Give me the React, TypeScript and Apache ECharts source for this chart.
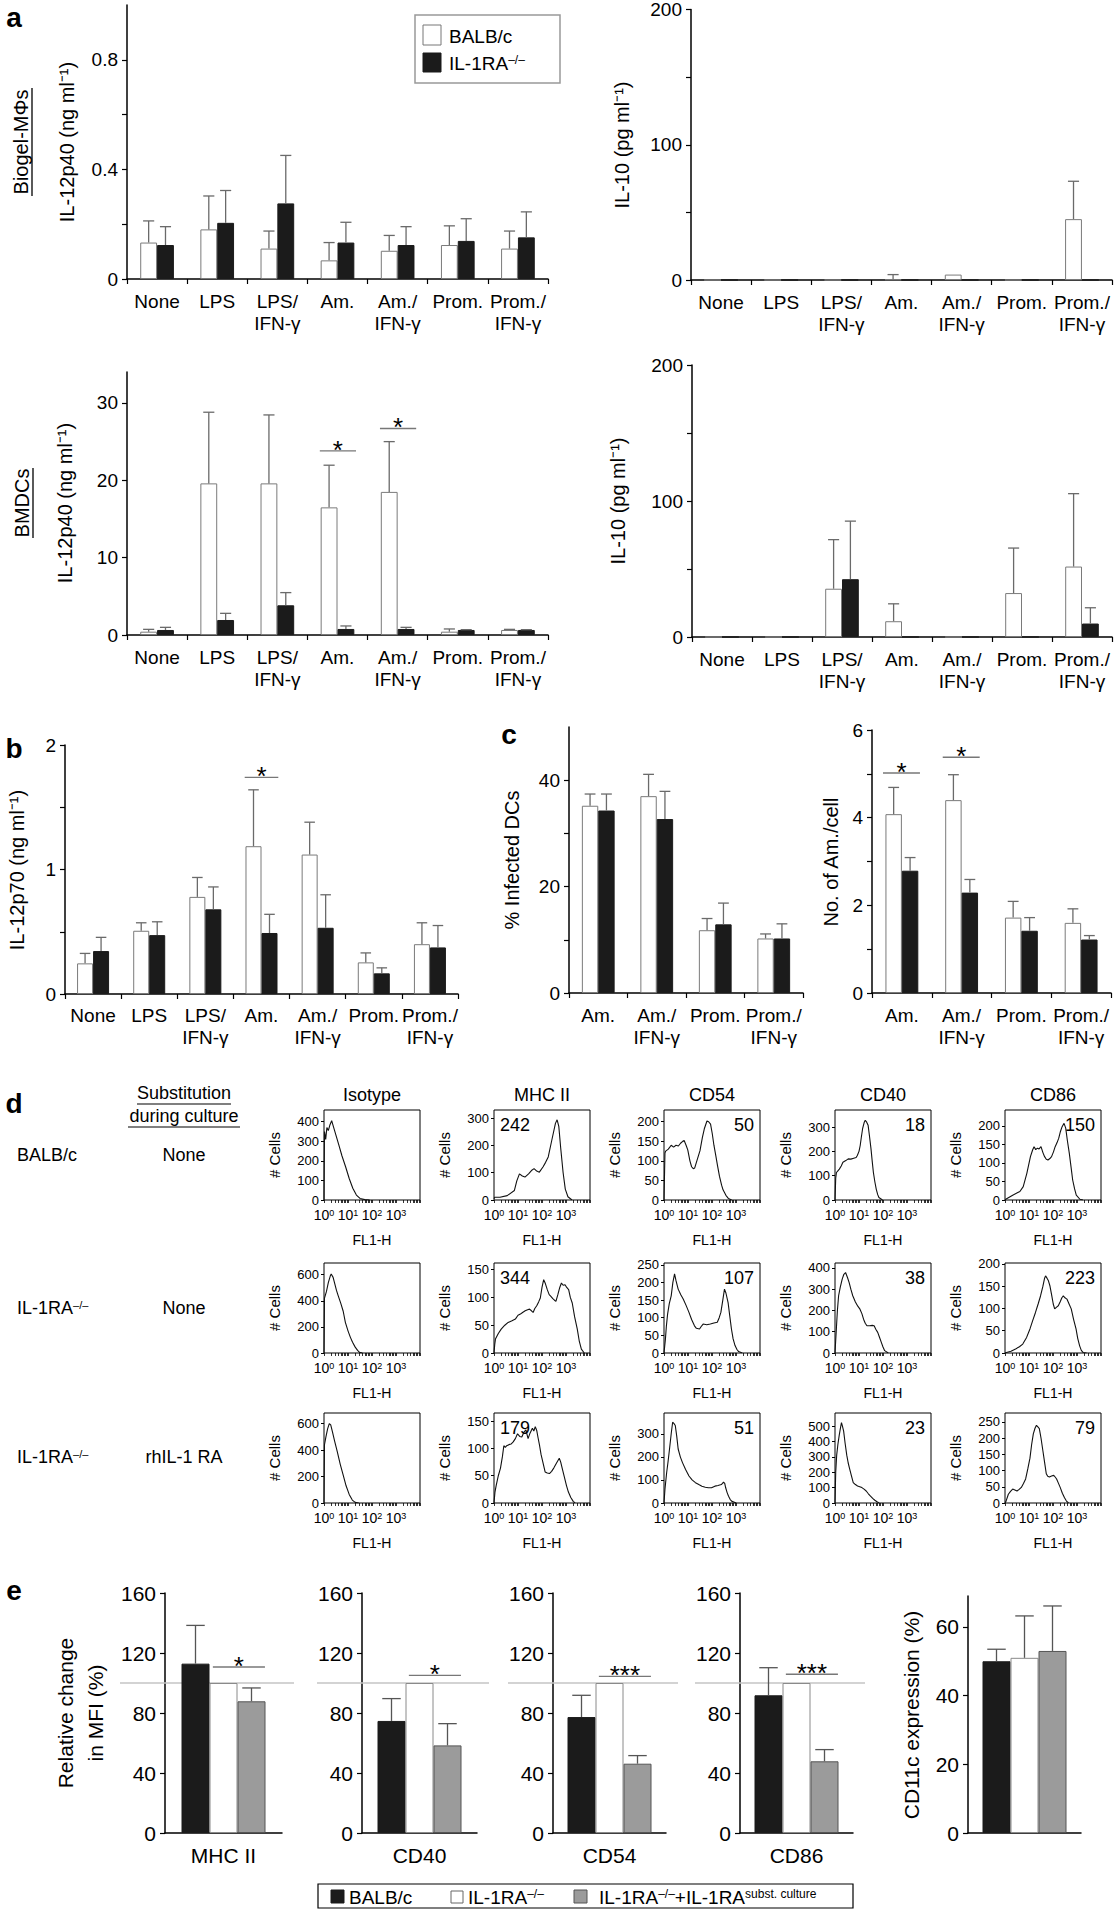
import React, { useEffect, useRef } from 'react';
import * as echarts from 'echarts';

const FONT = '"Liberation Sans", Arial, Helvetica, sans-serif';
const PAGE_W = 1114;
const PAGE_H = 1910;

// ---------------- categories & tick labels ----------------
const stimCats = ['None', 'LPS', 'LPS/\nIFN-γ', 'Am.', 'Am./\nIFN-γ', 'Prom.', 'Prom./\nIFN-γ'];
const infCats = ['Am.', 'Am./\nIFN-γ', 'Prom.', 'Prom./\nIFN-γ'];
const markerCats = ['MHC II', 'CD40', 'CD54', 'CD86'];

const ticksIL12Mf = [0, 0.2, 0.4, 0.6, 0.8];
const labelsIL12Mf = [0, 0.4, 0.8];
const ticksIL10 = [0, 50, 100, 150, 200];
const labelsIL10 = [0, 100, 200];
const ticksIL12Dc = [0, 10, 20, 30];
const ticksIL12p70 = [0, 0.5, 1, 1.5, 2];
const labelsIL12p70 = [0, 1, 2];
const ticksInfected = [0, 10, 20, 30, 40];
const labelsInfected = [0, 20, 40];
const ticksAmCell = [0, 1, 2, 3, 4, 5, 6];
const labelsAmCell = [0, 2, 4, 6];
const ticksMFI = [0, 40, 80, 120, 160];
const ticksCD11c = [0, 20, 40, 60];
const histXLabels = [0, 1, 2, 3];

// ---------------- a: Biogel-MΦs ----------------
const mfIL12Balb = [0.133, 0.181, 0.111, 0.068, 0.103, 0.124, 0.111];
const mfIL12BalbSD = [0.079, 0.122, 0.064, 0.065, 0.056, 0.07, 0.064];
const mfIL12Ko = [0.124, 0.205, 0.276, 0.133, 0.124, 0.139, 0.152];
const mfIL12KoSD = [0.067, 0.118, 0.175, 0.074, 0.067, 0.081, 0.093];
const mfIL10Balb = [0, 0, 0, 0.5, 4, 0, 45];
const mfIL10BalbSD = [0, 0, 0, 3.5, 0, 0, 28];
const mfIL10Ko = [0, 0, 0, 0, 0, 0, 0];
const mfIL10KoSD = [0, 0, 0, 0, 0, 0, 0];

// ---------------- a: BMDCs ----------------
const dcIL12Balb = [0.43, 19.6, 19.6, 16.5, 18.5, 0.43, 0.65];
const dcIL12BalbSD = [0.3, 9.2, 8.85, 5.45, 6.5, 0.35, 0.08];
const dcIL12Ko = [0.65, 1.94, 3.84, 0.78, 0.78, 0.65, 0.65];
const dcIL12KoSD = [0.34, 0.86, 1.64, 0.39, 0.21, 0.04, 0.04];
const dcIL12Sig = [{ cat: 3, y: 23.8, text: '*' }, { cat: 4, y: 26.7, text: '*' }];
const dcIL10Balb = [0, 0, 35.5, 11.6, 0, 32.3, 51.8];
const dcIL10BalbSD = [0, 0, 36.1, 12.8, 0, 33.1, 53.6];
const dcIL10Ko = [0, 0, 42.5, 0, 0, 0, 9.9];
const dcIL10KoSD = [0, 0, 42.7, 0, 0, 0, 11.6];

// ---------------- b: IL-12p70 ----------------
const p70Balb = [0.246, 0.508, 0.78, 1.187, 1.12, 0.254, 0.4];
const p70BalbSD = [0.08, 0.064, 0.156, 0.453, 0.26, 0.076, 0.172];
const p70Ko = [0.345, 0.473, 0.68, 0.49, 0.532, 0.166, 0.374];
const p70KoSD = [0.11, 0.107, 0.18, 0.15, 0.265, 0.044, 0.176];
const p70Sig = [{ cat: 3, y: 1.74, text: '*' }];

// ---------------- c: infection ----------------
const infBalb = [35.2, 37.0, 11.8, 10.25];
const infBalbSD = [2.2, 4.1, 2.2, 0.85];
const infKo = [34.3, 32.7, 12.9, 10.25];
const infKoSD = [3.1, 5.2, 4.0, 2.75];
const amCellBalb = [4.08, 4.4, 1.72, 1.6];
const amCellBalbSD = [0.61, 0.58, 0.37, 0.32];
const amCellKo = [2.79, 2.29, 1.42, 1.22];
const amCellKoSD = [0.3, 0.3, 0.3, 0.09];
const amCellSig = [{ cat: 0, y: 5.02, text: '*' }, { cat: 1, y: 5.38, text: '*' }];

// ---------------- d: histograms (x in decades of FL1-H, y = # cells) ----------------
const hIsoBalb = [[0, 0], [0.02, 350], [0.07, 310], [0.12, 370], [0.18, 355], [0.25, 385], [0.32, 405], [0.38, 380], [0.5, 330], [0.62, 280], [0.75, 225], [0.9, 170], [1.05, 110], [1.2, 60], [1.35, 25], [1.5, 8], [1.7, 2], [1.9, 0]];
const hMhcBalb = [[0, 5], [0.03, 10], [0.25, 10], [0.55, 16], [0.85, 35], [0.95, 70], [1.06, 96], [1.18, 88], [1.29, 84], [1.44, 96], [1.56, 108], [1.67, 115], [1.78, 106], [1.89, 102], [2.04, 121], [2.15, 138], [2.26, 158], [2.41, 220], [2.56, 281], [2.63, 294], [2.7, 270], [2.78, 190], [2.88, 100], [2.97, 40], [3.08, 12], [3.25, 0]];
const hCd54Balb = [[0, 0], [0.04, 120], [0.07, 125], [0.18, 130], [0.3, 140], [0.4, 135], [0.5, 140], [0.6, 138], [0.69, 145], [0.78, 150], [0.84, 152], [0.92, 140], [0.99, 128], [1.08, 100], [1.15, 85], [1.22, 80], [1.28, 82], [1.35, 96], [1.5, 126], [1.6, 160], [1.68, 182], [1.79, 202], [1.86, 200], [1.94, 194], [2.01, 170], [2.08, 140], [2.16, 113], [2.23, 88], [2.31, 61], [2.4, 38], [2.46, 26], [2.58, 12], [2.68, 4], [2.82, 0]];
const hCd40Balb = [[0, 0], [0.03, 90], [0.06, 113], [0.12, 120], [0.18, 127], [0.26, 140], [0.33, 155], [0.45, 162], [0.55, 169], [0.66, 168], [0.78, 172], [0.88, 175], [0.93, 183], [1.0, 200], [1.05, 224], [1.1, 260], [1.15, 293], [1.22, 320], [1.26, 328], [1.32, 320], [1.38, 307], [1.44, 260], [1.5, 210], [1.55, 160], [1.6, 113], [1.66, 75], [1.72, 44], [1.78, 22], [1.83, 10], [1.98, 0]];
const hCd86Balb = [[0, 0], [0.03, 2], [0.32, 13], [0.62, 23], [0.76, 36], [0.91, 72], [1.06, 117], [1.15, 135], [1.21, 144], [1.28, 136], [1.35, 140], [1.42, 138], [1.5, 144], [1.58, 128], [1.65, 117], [1.72, 110], [1.79, 108], [1.87, 112], [1.94, 117], [2.02, 130], [2.09, 144], [2.17, 155], [2.24, 167], [2.31, 185], [2.38, 198], [2.46, 207], [2.53, 194], [2.6, 160], [2.68, 126], [2.75, 90], [2.82, 54], [2.9, 30], [2.97, 13], [3.12, 2], [3.25, 0]];

const hIsoKo = [[0, 0], [0.02, 420], [0.1, 470], [0.18, 540], [0.26, 590], [0.3, 605], [0.38, 580], [0.45, 530], [0.52, 480], [0.59, 440], [0.7, 380], [0.8, 320], [0.89, 235], [1.0, 170], [1.1, 120], [1.19, 82], [1.3, 45], [1.4, 20], [1.48, 5], [1.6, 0]];
const hMhcKo = [[0, 0], [0.03, 15], [0.06, 25], [0.18, 35], [0.3, 43], [0.45, 50], [0.59, 55], [0.75, 58], [0.89, 61], [1.0, 68], [1.1, 70], [1.19, 73], [1.3, 76], [1.4, 78], [1.48, 79], [1.56, 76], [1.63, 73], [1.7, 80], [1.78, 85], [1.86, 92], [1.93, 99], [2.0, 118], [2.07, 132], [2.14, 125], [2.22, 114], [2.3, 105], [2.37, 102], [2.45, 98], [2.52, 95], [2.58, 93], [2.66, 105], [2.74, 118], [2.81, 126], [2.88, 122], [2.96, 123], [3.03, 118], [3.11, 114], [3.18, 100], [3.26, 90], [3.36, 65], [3.47, 43], [3.55, 22], [3.64, 7], [3.76, 0]];
const hCd54Ko = [[0, 0], [0.06, 40], [0.1, 77], [0.15, 110], [0.22, 140], [0.3, 162], [0.37, 200], [0.44, 224], [0.5, 205], [0.59, 181], [0.7, 165], [0.8, 153], [0.92, 135], [1.04, 115], [1.15, 95], [1.27, 77], [1.35, 70], [1.48, 68], [1.55, 75], [1.63, 82], [1.78, 80], [1.93, 82], [2.08, 85], [2.22, 87], [2.3, 100], [2.37, 115], [2.45, 150], [2.52, 181], [2.58, 170], [2.67, 143], [2.74, 105], [2.81, 68], [2.88, 40], [2.96, 21], [3.04, 10], [3.11, 4], [3.26, 0]];
const hCd40Ko = [[0, 0], [0.06, 120], [0.1, 200], [0.15, 269], [0.22, 310], [0.3, 347], [0.37, 370], [0.44, 378], [0.52, 355], [0.59, 331], [0.66, 300], [0.74, 269], [0.85, 240], [0.95, 220], [1.04, 206], [1.12, 185], [1.19, 159], [1.26, 140], [1.33, 128], [1.45, 128], [1.55, 130], [1.63, 128], [1.7, 112], [1.78, 97], [1.85, 75], [1.93, 50], [2.0, 28], [2.07, 11], [2.22, 0]];
const hCd86Ko = [[0, 0], [0.06, 1], [0.25, 4], [0.44, 9], [0.6, 14], [0.74, 20], [0.9, 35], [1.04, 54], [1.15, 72], [1.27, 91], [1.38, 110], [1.48, 128], [1.58, 150], [1.65, 168], [1.69, 173], [1.75, 168], [1.81, 162], [1.87, 151], [1.95, 128], [2.01, 110], [2.07, 99], [2.15, 103], [2.22, 106], [2.3, 115], [2.37, 124], [2.43, 128], [2.5, 124], [2.58, 121], [2.67, 110], [2.76, 99], [2.86, 75], [2.96, 54], [3.03, 33], [3.11, 16], [3.18, 6], [3.26, 1], [3.4, 0]];

const hIsoRa = [[0, 0], [0.02, 440], [0.08, 500], [0.15, 560], [0.22, 600], [0.28, 590], [0.35, 540], [0.44, 470], [0.55, 390], [0.68, 290], [0.8, 210], [0.92, 130], [1.05, 65], [1.18, 22], [1.3, 5], [1.45, 0]];
const hMhcRa = [[0, 0], [0.04, 20], [0.09, 32], [0.18, 50], [0.27, 64], [0.35, 85], [0.41, 105], [0.47, 102], [0.53, 105], [0.62, 107], [0.71, 108], [0.8, 112], [0.89, 118], [0.98, 127], [1.07, 122], [1.16, 121], [1.25, 130], [1.33, 134], [1.38, 125], [1.42, 118], [1.5, 128], [1.6, 137], [1.66, 132], [1.72, 140], [1.78, 133], [1.83, 121], [1.9, 105], [1.96, 89], [2.05, 72], [2.13, 57], [2.22, 55], [2.31, 54], [2.4, 58], [2.49, 64], [2.6, 73], [2.72, 82], [2.78, 75], [2.84, 64], [2.93, 48], [3.02, 32], [3.1, 20], [3.2, 10], [3.3, 3], [3.38, 0]];
const hCd54Ra = [[0, 0], [0.04, 60], [0.11, 131], [0.17, 180], [0.23, 234], [0.3, 300], [0.36, 350], [0.41, 345], [0.47, 336], [0.53, 290], [0.59, 234], [0.68, 200], [0.77, 175], [0.9, 145], [1.04, 117], [1.17, 100], [1.31, 88], [1.45, 80], [1.58, 73], [1.72, 68], [1.85, 66], [1.98, 66], [2.12, 73], [2.25, 76], [2.39, 80], [2.48, 90], [2.53, 85], [2.57, 66], [2.63, 45], [2.69, 29], [2.76, 15], [2.83, 7], [3.01, 0]];
const hCd40Ra = [[0, 0], [0.03, 200], [0.07, 311], [0.12, 380], [0.18, 444], [0.23, 490], [0.27, 522], [0.31, 500], [0.36, 467], [0.42, 390], [0.49, 311], [0.55, 260], [0.61, 222], [0.68, 180], [0.76, 133], [0.85, 120], [0.94, 111], [1.03, 106], [1.12, 100], [1.21, 90], [1.3, 78], [1.39, 60], [1.48, 44], [1.57, 30], [1.66, 18], [1.75, 8], [1.84, 0]];
const hCd86Ra = [[0, 0], [0.04, 5], [0.14, 27], [0.23, 36], [0.32, 43], [0.41, 40], [0.5, 37], [0.59, 42], [0.68, 48], [0.77, 60], [0.86, 74], [0.95, 105], [1.04, 138], [1.11, 180], [1.18, 213], [1.25, 230], [1.31, 239], [1.37, 234], [1.43, 229], [1.5, 200], [1.58, 160], [1.65, 125], [1.72, 90], [1.78, 82], [1.85, 80], [1.94, 83], [2.03, 85], [2.09, 80], [2.15, 74], [2.22, 62], [2.3, 48], [2.39, 30], [2.48, 16], [2.56, 6], [2.65, 0]];

const histTitles = ['Isotype', 'MHC II', 'CD54', 'CD40', 'CD86'];
const histRowLabels = ['BALB/c', 'IL-1RA', 'IL-1RA'];
const histRowSubst = ['None', 'None', 'rhIL-1 RA'];
const histMfi = [['', '242', '50', '18', '150'], ['', '344', '107', '38', '223'], ['', '179', '51', '23', '79']];
const histYMax = [[460, 330, 230, 370, 243], [690, 162, 255, 423, 202], [680, 165, 390, 585, 277]];
const histYTicks = [
  [[0, 100, 200, 300, 400], [0, 100, 200, 300], [0, 50, 100, 150, 200], [0, 100, 200, 300], [0, 50, 100, 150, 200]],
  [[0, 200, 400, 600], [0, 50, 100, 150], [0, 50, 100, 150, 200, 250], [0, 100, 200, 300, 400], [0, 50, 100, 150, 200]],
  [[0, 200, 400, 600], [0, 50, 100, 150], [0, 100, 200, 300], [0, 100, 200, 300, 400, 500], [0, 50, 100, 150, 200, 250]],
];
const histData = [
  [hIsoBalb, hMhcBalb, hCd54Balb, hCd40Balb, hCd86Balb],
  [hIsoKo, hMhcKo, hCd54Ko, hCd40Ko, hCd86Ko],
  [hIsoRa, hMhcRa, hCd54Ra, hCd40Ra, hCd86Ra],
];

// ---------------- e: relative MFI and CD11c ----------------
const mfiBalb = [112.9, 74.7, 77.3, 91.8];
const mfiBalbSD = [25.5, 14.9, 14.5, 18.4];
const mfiKo = [100, 100, 100, 100];
const mfiKoSD = [0, 0, 0, 0];
const mfiKoRa = [87.8, 58.4, 46.2, 47.8];
const mfiKoRaSD = [8.9, 14.5, 5.4, 7.8];
const mfiSigY = [110.7, 105.1, 104.4, 105.8];
const mfiSigText = ['*', '*', '***', '***'];
const mfiRefLevel = 100;
const cd11cVals = [50.0, 51.0, 53.0];
const cd11cSD = [3.5, 12.2, 13.1];

// ---------------- styles ----------------
const WHITE = { fill: '#ffffff', stroke: '#7a7a7a', err: '#6a6a6a' };
const BLACK = { fill: '#1b1b1b', stroke: '#1b1b1b', err: '#6a6a6a' };
const E_BLACK = { fill: '#1b1b1b', stroke: '#1b1b1b', err: '#555555' };
const E_WHITE = { fill: '#ffffff', stroke: '#8a8a8a', err: '#555555' };
const E_GRAY = { fill: '#9b9b9b', stroke: '#555555', err: '#555555' };

const supRich = (size: number) => ({
  n: { fontSize: size, fontFamily: FONT, fill: '#000', color: '#000' },
  s: { fontSize: Math.round(size * 0.62), fontFamily: FONT, fill: '#000', color: '#000', verticalAlign: 'top' },
});

function txt(text: string, x: number, y: number, o: any = {}) {
  return {
    type: 'text', x, y, rotation: o.rot || 0, silent: true, z: 10,
    style: {
      text, fill: '#000', fontSize: o.size || 19, fontFamily: FONT,
      fontWeight: o.bold ? 'bold' : 'normal', align: o.align || 'center',
      verticalAlign: o.va || 'middle', rich: o.rich, lineHeight: o.lh,
    },
  };
}
function seg(x1: number, y1: number, x2: number, y2: number, color = '#000', w = 1.2) {
  return { type: 'line', silent: true, z: 10, shape: { x1, y1, x2, y2 }, style: { stroke: color, lineWidth: w } };
}
function box(x: number, y: number, w: number, h: number, fill: string, stroke: string, lw = 1) {
  return { type: 'rect', silent: true, z: 10, shape: { x, y, width: w, height: h }, style: { fill, stroke, lineWidth: lw } };
}

function buildOption() {
  const grid: any[] = [];
  const xAxis: any[] = [];
  const yAxis: any[] = [];
  const series: any[] = [];
  const graphic: any[] = [];
  let gi = 0;

  const addBarPanel = (p: any) => {
    const i = gi++;
    grid.push({ left: p.rect[0], top: p.rect[1], width: p.rect[2], height: p.rect[3] });
    xAxis.push({
      type: 'category', gridIndex: i, data: p.cats, boundaryGap: true,
      axisLine: { show: true, lineStyle: { color: '#000', width: 1.5 } },
      axisTick: { show: p.xTicks !== false, interval: 0, length: 5, lineStyle: { color: '#000', width: 1.2 } },
      axisLabel: { interval: 0, color: '#000', fontFamily: FONT, fontSize: p.font, lineHeight: p.font + 3, margin: p.xMargin ?? 11 },
      splitLine: { show: false },
    });
    yAxis.push({
      type: 'value', gridIndex: i, min: 0, max: p.max,
      axisLine: { show: true, lineStyle: { color: '#000', width: 1.5 } },
      axisTick: { show: true, length: 5, customValues: p.ticks, lineStyle: { color: '#000', width: 1.2 } },
      axisLabel: { customValues: p.labels, color: '#000', fontFamily: FONT, fontSize: p.font, margin: 9 },
      splitLine: { show: false },
    });
    const n = p.series.length;
    const bwOf = (api: any) => (p.barPx ? p.barPx : api.size([1, 0])[0] * p.barFrac);
    if (p.refLevel !== undefined) {
      series.push({
        type: 'custom', xAxisIndex: i, yAxisIndex: i, z: 1, silent: true,
        data: [[0, p.refLevel]], encode: { x: 0, y: 1 },
        renderItem: (params: any, api: any) => {
          const cs = params.coordSys;
          const c = api.coord([0, api.value(1)]);
          return { type: 'line', shape: { x1: cs.x - 45, y1: c[1], x2: cs.x + cs.width + 12, y2: c[1] }, style: { stroke: '#c4c4c4', lineWidth: 1.6 } };
        },
      });
    }
    p.series.forEach((s: any, k: number) => {
      series.push({
        type: 'bar', xAxisIndex: i, yAxisIndex: i, data: s.values, z: 2, silent: true,
        barWidth: p.barPx ? p.barPx : `${p.barFrac * 100}%`, barGap: '0%',
        itemStyle: { color: s.style.fill, borderColor: s.style.stroke, borderWidth: 1 },
      });
      series.push({
        type: 'custom', xAxisIndex: i, yAxisIndex: i, z: 3, silent: true,
        data: s.values.map((v: number, j: number) => [j, v, s.sd[j]]), encode: { x: 0, y: 1 },
        renderItem: (params: any, api: any) => {
          const e = api.value(2);
          if (!(e > 0)) return null;
          const j = api.value(0);
          const v = api.value(1);
          const bw = bwOf(api);
          const base = api.coord([j, v]);
          const top = api.coord([j, v + e]);
          const x = base[0] + (k - (n - 1) / 2) * bw;
          const cap = bw * 0.33;
          const st = { stroke: s.style.err, lineWidth: 1.3 };
          return {
            type: 'group', children: [
              { type: 'line', shape: { x1: x, y1: base[1], x2: x, y2: top[1] }, style: st },
              { type: 'line', shape: { x1: x - cap, y1: top[1], x2: x + cap, y2: top[1] }, style: st },
            ],
          };
        },
      });
    });
    if (p.sig) {
      series.push({
        type: 'custom', xAxisIndex: i, yAxisIndex: i, z: 4, silent: true,
        data: p.sig.map((s: any) => [s.cat, s.y]), encode: { x: 0, y: 1 },
        renderItem: (params: any, api: any) => {
          const s = p.sig[params.dataIndex];
          const bw = bwOf(api);
          const c = api.coord([api.value(0), api.value(1)]);
          const x1 = c[0] + p.sigFrom * bw;
          const x2 = c[0] + p.sigTo * bw;
          return {
            type: 'group', children: [
              { type: 'line', shape: { x1, y1: c[1], x2, y2: c[1] }, style: { stroke: '#777', lineWidth: 1.4 } },
              { type: 'text', x: (x1 + x2) / 2, y: c[1] - 1, style: { text: s.text, fill: '#000', fontSize: 26, fontFamily: FONT, align: 'center', verticalAlign: 'middle' } },
            ],
          };
        },
      });
    }
  };

  const addHist = (left: number, top: number, data: number[][], max: number, ticks: number[]) => {
    const i = gi++;
    grid.push({ left, top, width: 96, height: 90, show: true, borderColor: '#000', borderWidth: 1, backgroundColor: 'transparent' });
    const minor: number[] = [];
    for (let d = 0; d < 4; d++) for (let m = 1; m < 10; m++) minor.push(d + Math.log10(m));
    minor.push(4);
    xAxis.push({
      type: 'value', gridIndex: i, min: 0, max: 4,
      axisLine: { show: false }, splitLine: { show: false },
      axisTick: { show: true, length: 3, customValues: minor, lineStyle: { color: '#000', width: 0.8 } },
      axisLabel: {
        customValues: histXLabels, margin: 8,
        formatter: (v: number) => `{b|10}{s|${Math.round(v)}}`,
        rich: {
          b: { fontSize: 14, fontFamily: FONT, color: '#000' },
          s: { fontSize: 9, fontFamily: FONT, color: '#000', verticalAlign: 'top' },
        },
      },
    });
    yAxis.push({
      type: 'value', gridIndex: i, min: 0, max,
      axisLine: { show: false }, splitLine: { show: false },
      axisTick: { show: true, length: 3, customValues: ticks, lineStyle: { color: '#000', width: 1 } },
      axisLabel: { customValues: ticks, color: '#000', fontFamily: FONT, fontSize: 13, margin: 5 },
    });
    series.push({
      type: 'line', xAxisIndex: i, yAxisIndex: i, data, showSymbol: false, symbol: 'none', silent: true,
      lineStyle: { color: '#111', width: 1.1 }, clip: true,
    });
  };

  // ----- panel a -----
  addBarPanel({ rect: [127, 5, 421, 274], cats: stimCats, max: 1, ticks: ticksIL12Mf, labels: labelsIL12Mf, barFrac: 0.28, font: 19,
    series: [{ values: mfIL12Balb, sd: mfIL12BalbSD, style: WHITE }, { values: mfIL12Ko, sd: mfIL12KoSD, style: BLACK }] });
  addBarPanel({ rect: [691, 7, 421, 273], cats: stimCats, max: 200, ticks: ticksIL10, labels: labelsIL10, barFrac: 0.28, font: 19,
    series: [{ values: mfIL10Balb, sd: mfIL10BalbSD, style: WHITE }, { values: mfIL10Ko, sd: mfIL10KoSD, style: BLACK }] });
  addBarPanel({ rect: [127, 372, 421, 263], cats: stimCats, max: 34, ticks: ticksIL12Dc, labels: ticksIL12Dc, barFrac: 0.28, font: 19,
    series: [{ values: dcIL12Balb, sd: dcIL12BalbSD, style: WHITE }, { values: dcIL12Ko, sd: dcIL12KoSD, style: BLACK }],
    sig: dcIL12Sig, sigFrom: -1.05, sigTo: 1.1 });
  addBarPanel({ rect: [692, 365, 420, 272], cats: stimCats, max: 200, ticks: ticksIL10, labels: labelsIL10, barFrac: 0.28, font: 19,
    series: [{ values: dcIL10Balb, sd: dcIL10BalbSD, style: WHITE }, { values: dcIL10Ko, sd: dcIL10KoSD, style: BLACK }] });
  // ----- panel b -----
  addBarPanel({ rect: [65, 745, 393, 249], cats: stimCats, max: 2, ticks: ticksIL12p70, labels: labelsIL12p70, barFrac: 0.285, font: 19, xMargin: 10,
    series: [{ values: p70Balb, sd: p70BalbSD, style: WHITE }, { values: p70Ko, sd: p70KoSD, style: BLACK }],
    sig: p70Sig, sigFrom: -1.05, sigTo: 1.05 });
  // ----- panel c -----
  addBarPanel({ rect: [569, 727, 234, 266], cats: infCats, max: 50, ticks: ticksInfected, labels: labelsInfected, barFrac: 0.28, font: 19, xMargin: 11,
    series: [{ values: infBalb, sd: infBalbSD, style: WHITE }, { values: infKo, sd: infKoSD, style: BLACK }] });
  addBarPanel({ rect: [872, 730, 239, 263], cats: infCats, max: 6, ticks: ticksAmCell, labels: labelsAmCell, barFrac: 0.275, font: 19, xMargin: 11,
    series: [{ values: amCellBalb, sd: amCellBalbSD, style: WHITE }, { values: amCellKo, sd: amCellKoSD, style: BLACK }],
    sig: amCellSig, sigFrom: -1.15, sigTo: 1.1 });

  // ----- panel d -----
  const histCols = [324, 494, 664, 835, 1005];
  const histTops = [1110, 1263, 1413];
  histTops.forEach((top, r) => {
    histCols.forEach((left, c) => {
      addHist(left, top, histData[r][c], histYMax[r][c], histYTicks[r][c]);
      graphic.push(txt('# Cells', left - 50, top + 45, { size: 15, rot: Math.PI / 2 }));
      graphic.push(txt('FL1-H', left + 48, top + 130, { size: 14 }));
      const mfi = histMfi[r][c];
      if (mfi) {
        if (c === 1) graphic.push(txt(mfi, left + 6, top + 15, { size: 18, align: 'left' }));
        else graphic.push(txt(mfi, left + 90, top + 15, { size: 18, align: 'right' }));
      }
      if (r === 0) graphic.push(txt(histTitles[c], left + 48, 1095, { size: 18 }));
    });
    const ly = [1155, 1308, 1457][r];
    if (r === 0) graphic.push(txt(histRowLabels[r], 17, ly, { size: 18, align: 'left' }));
    else graphic.push(txt(`{n|${histRowLabels[r]}}{s|–/–}`, 17, ly, { size: 18, align: 'left', rich: supRich(18) }));
    graphic.push(txt(histRowSubst[r], 184, ly, { size: 18 }));
  });

  // ----- panel e -----
  const eRects = [[165, 1593, 117, 240], [362, 1593, 115, 240], [553, 1593, 113, 240], [740, 1593, 113, 240]];
  markerCats.forEach((m, k) => {
    addBarPanel({ rect: eRects[k], cats: [m], max: 160, ticks: ticksMFI, labels: ticksMFI, barPx: 28, font: 21, xMargin: 10, xTicks: false,
      refLevel: mfiRefLevel,
      series: [
        { values: [mfiBalb[k]], sd: [mfiBalbSD[k]], style: E_BLACK },
        { values: [mfiKo[k]], sd: [mfiKoSD[k]], style: E_WHITE },
        { values: [mfiKoRa[k]], sd: [mfiKoRaSD[k]], style: E_GRAY },
      ],
      sig: [{ cat: 0, y: mfiSigY[k], text: mfiSigText[k] }], sigFrom: -0.38, sigTo: 1.48 });
  });
  addBarPanel({ rect: [968, 1596, 113, 237], cats: [''], max: 69, ticks: ticksCD11c, labels: ticksCD11c, barPx: 28, font: 21, xTicks: false,
    series: [
      { values: [cd11cVals[0]], sd: [cd11cSD[0]], style: E_BLACK },
      { values: [cd11cVals[1]], sd: [cd11cSD[1]], style: E_WHITE },
      { values: [cd11cVals[2]], sd: [cd11cSD[2]], style: E_GRAY },
    ] });

  // ----- texts: panel letters -----
  graphic.push(txt('a', 14, 17, { size: 28, bold: true }));
  graphic.push(txt('b', 14, 748, { size: 28, bold: true }));
  graphic.push(txt('c', 509, 734, { size: 28, bold: true }));
  graphic.push(txt('d', 14, 1103, { size: 28, bold: true }));
  graphic.push(txt('e', 14, 1590, { size: 28, bold: true }));

  // ----- axis titles -----
  const R = Math.PI / 2;
  graphic.push(txt('Biogel-MΦs', 21, 142, { size: 20, rot: R }));
  graphic.push(seg(32, 142 - 54, 32, 142 + 54, '#000', 1.3));
  graphic.push(txt('IL-12p40 (ng ml⁻¹)', 67, 142, { size: 20, rot: R }));
  graphic.push(txt('IL-10 (pg ml⁻¹)', 622, 145, { size: 20, rot: R }));
  graphic.push(txt('BMDCs', 22, 503, { size: 20, rot: R }));
  graphic.push(seg(33, 503 - 35, 33, 503 + 35, '#000', 1.3));
  graphic.push(txt('IL-12p40 (ng ml⁻¹)', 65, 503, { size: 20, rot: R }));
  graphic.push(txt('IL-10 (pg ml⁻¹)', 618, 501, { size: 20, rot: R }));
  graphic.push(txt('IL-12p70 (ng ml⁻¹)', 17, 870, { size: 20, rot: R }));
  graphic.push(txt('% Infected DCs', 512, 860, { size: 20, rot: R }));
  graphic.push(txt('No. of Am./cell', 831, 862, { size: 20, rot: R }));
  graphic.push(txt('Relative change\nin MFI (%)', 80, 1713, { size: 21, rot: R, lh: 30 }));
  graphic.push(txt('CD11c expression (%)', 911, 1715, { size: 21, rot: R }));

  // ----- panel a legend -----
  graphic.push(box(415, 15, 145, 68, 'rgba(0,0,0,0)', '#999', 1.5));
  graphic.push(box(423, 25, 18, 20, '#fff', '#777', 1));
  graphic.push(box(423, 53, 18, 19, '#1b1b1b', '#1b1b1b', 1));
  graphic.push(txt('BALB/c', 449, 36, { size: 19, align: 'left' }));
  graphic.push(txt('{n|IL-1RA}{s|–/–}', 449, 63, { size: 19, align: 'left', rich: supRich(19) }));

  // ----- panel d header -----
  graphic.push(txt('Substitution', 184, 1093, { size: 18 }));
  graphic.push(seg(137, 1104, 231, 1104, '#000', 1.2));
  graphic.push(txt('during culture', 184, 1116, { size: 18 }));
  graphic.push(seg(128, 1127, 240, 1127, '#000', 1.2));

  // ----- panel e legend -----
  graphic.push(box(318, 1884, 535, 24, 'rgba(0,0,0,0)', '#000', 1.2));
  graphic.push(box(331, 1890, 13, 13, '#1b1b1b', '#1b1b1b', 1));
  graphic.push(txt('BALB/c', 349, 1897, { size: 19, align: 'left' }));
  graphic.push(box(451, 1891, 12, 12, '#fff', '#666', 1));
  graphic.push(txt('{n|IL-1RA}{s|–/–}', 468, 1897, { size: 19, align: 'left', rich: supRich(19) }));
  graphic.push(box(574, 1890, 13, 13, '#9b9b9b', '#555', 1));
  graphic.push(txt('{n|IL-1RA}{s|–/–}{n|+IL-1RA}{s|subst. culture}', 599, 1897, { size: 19, align: 'left', rich: supRich(19) }));

  return {
    animation: false,
    backgroundColor: '#ffffff',
    textStyle: { fontFamily: FONT },
    grid, xAxis, yAxis, series, graphic,
  };
}

export default function App() {
  const ref = useRef<HTMLDivElement>(null);
  useEffect(() => {
    document.body.style.margin = '0';
    const chart = echarts.init(ref.current as HTMLDivElement, null, { renderer: 'svg' });
    chart.setOption(buildOption() as any);
    return () => chart.dispose();
  }, []);
  return <div ref={ref} style={{ width: PAGE_W, height: PAGE_H, background: '#fff' }} />;
}
